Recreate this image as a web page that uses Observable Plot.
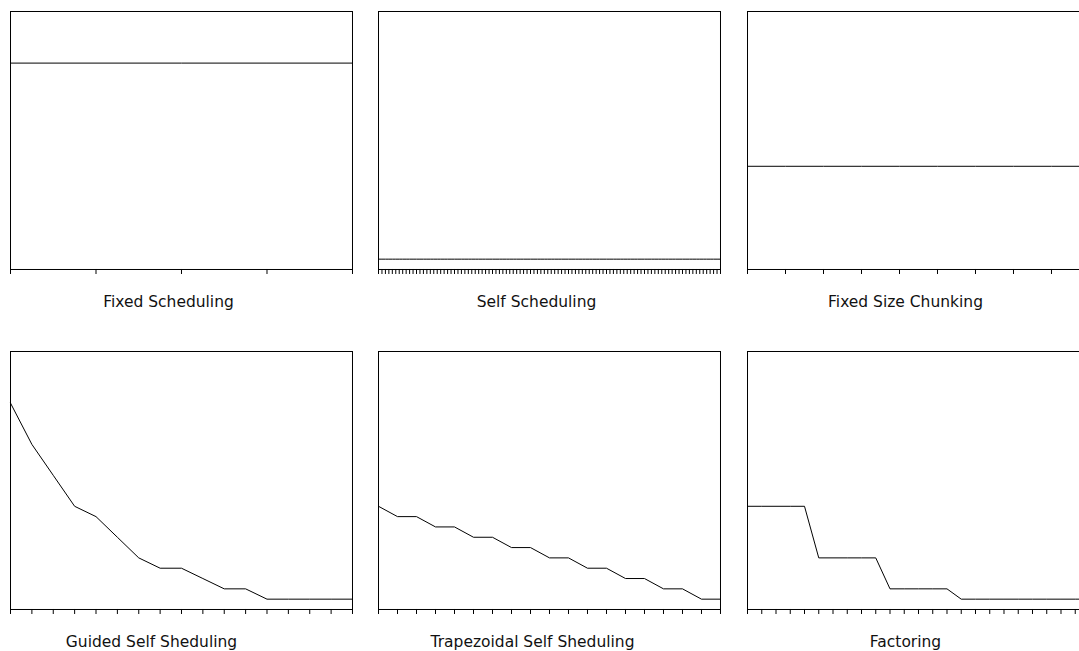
<!DOCTYPE html>
<html>
<head>
<meta charset="utf-8">
<script src="https://cdn.jsdelivr.net/npm/d3@7"></script>
<script src="https://cdn.jsdelivr.net/npm/@observablehq/plot@0.6"></script>
<style>
  html, body { margin: 0; padding: 0; background: #fff; overflow: hidden; }
  #wrap { position: relative; width: 1079px; height: 651px; overflow: hidden; }
  .panel { position: absolute; }
</style>
</head>
<body>
<div id="wrap"></div>
<script>
// Panel titles
const titles = [
  "Fixed Scheduling",
  "Self Scheduling",
  "Fixed Size Chunking",
  "Guided Self Sheduling",
  "Trapezoidal Self Sheduling",
  "Factoring"
];

// Chunk sizes per scheduled chunk (index = chunk number)
const fixedScheduling = [20, 20, 20, 20, 20];
const selfScheduling = Array.from({length: 100}, () => 1);
const fixedSizeChunking = [10, 10, 10, 10, 10, 10, 10, 10, 10, 10];
const guidedSelfScheduling = [20, 16, 13, 10, 9, 7, 5, 4, 4, 3, 2, 2, 1, 1, 1, 1, 1];
const trapezoidalSelfScheduling = [10, 9, 9, 8, 8, 7, 7, 6, 6, 5, 5, 4, 4, 3, 3, 2, 2, 1, 1];
const factoring = [10, 10, 10, 10, 10, 5, 5, 5, 5, 5, 2, 2, 2, 2, 2, 1, 1, 1, 1, 1, 1, 1, 1, 1, 1];

const yMax = 25;

const series = [
  fixedScheduling, selfScheduling, fixedSizeChunking,
  guidedSelfScheduling, trapezoidalSelfScheduling, factoring
];

// layout
const panelW = 368.33;
const panelH = 340;
const innerW = 342;
const innerH = 258;
const mLeft = 10, mTop = 11;
const labelDx = [-13, -13, -13, -30, -17, -13];

const wrap = document.getElementById("wrap");

series.forEach((vals, i) => {
  const data = vals.map((v, k) => ({k, v}));
  const xs = vals.map((v, k) => k);
  const col = i % 3, row = Math.floor(i / 3);
  const chart = Plot.plot({
    width: panelW,
    height: panelH,
    marginLeft: mLeft,
    marginRight: panelW - mLeft - innerW,
    marginTop: mTop,
    marginBottom: panelH - mTop - innerH,
    style: {fontFamily: "'DejaVu Sans', Verdana, sans-serif", background: "white", overflow: "visible"},
    x: {domain: [0, vals.length - 1], axis: null},
    y: {domain: [0, yMax], axis: null},
    marks: [
      Plot.frame({stroke: "#000", strokeWidth: 1}),
      Plot.axisX(xs, {tickSize: 5, tickFormat: () => "", label: null, stroke: "#000", strokeWidth: 1}),
      Plot.line(data, {x: "k", y: "v", stroke: "#000", strokeWidth: 1}),
      Plot.text([titles[i]], {frameAnchor: "bottom", dy: 32.5, dx: labelDx[i], fontSize: 15.5, fill: "#111", lineAnchor: "middle"})
    ]
  });
  chart.classList.add("panel");
  chart.style.left = (col * panelW) + "px";
  chart.style.top = (row * panelH) + "px";
  wrap.appendChild(chart);
});
</script>
</body>
</html>
